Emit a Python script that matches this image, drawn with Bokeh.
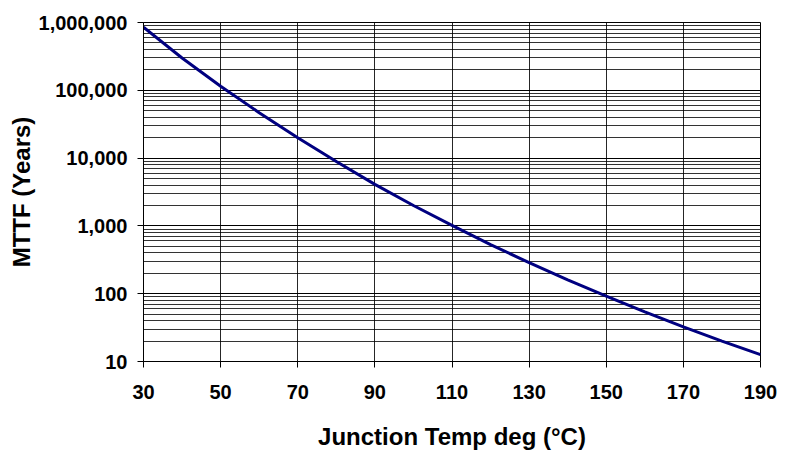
from bokeh.plotting import figure
from bokeh.models import FixedTicker, NumeralTickFormatter
from bokeh.embed import file_html
from bokeh.resources import INLINE

# Junction temperature (deg C) and MTTF (years)
temp_c = [30, 40, 50, 60, 70, 80, 90, 100, 110, 120, 130, 140, 150, 160, 170, 180, 190]
mttf_years = [850000, 300000, 115000, 46700, 20000, 8900, 4100, 2000, 1020, 530,
              287, 160, 92, 54, 32.4, 20, 12.6]

x_ticks = [30, 50, 70, 90, 110, 130, 150, 170, 190]
y_ticks = [10, 100, 1000, 10000, 100000, 1000000]
y_minor = [m * d for d in [10, 100, 1000, 10000, 100000] for m in range(2, 10)]

FONT = "Liberation Sans"

p = figure(width=785, height=452, y_axis_type="log",
           x_range=(30, 190), y_range=(10, 1000000),
           output_backend="svg", toolbar_location=None,
           min_border_left=143, min_border_right=25,
           min_border_top=22, min_border_bottom=91)

p.line(temp_c, mttf_years, line_color="#000080", line_width=3)

p.xaxis.ticker = FixedTicker(ticks=x_ticks)
p.yaxis.ticker = FixedTicker(ticks=y_ticks, minor_ticks=y_minor)
p.yaxis.formatter = NumeralTickFormatter(format="0,0")

for ax in (p.xaxis, p.yaxis):
    ax.major_label_text_font = FONT
    ax.major_label_text_font_style = "bold"
    ax.major_label_text_font_size = "20px"
    ax.major_label_text_color = "black"
    ax.axis_label_text_font = FONT
    ax.axis_label_text_font_style = "bold"
    ax.axis_label_text_font_size = "24px"
    ax.axis_label_text_color = "black"
    ax.axis_line_color = "black"
    ax.axis_line_width = 1
    ax.major_tick_line_color = "black"
    ax.major_tick_out = 6
    ax.major_tick_in = 0
    ax.minor_tick_line_color = None

p.xaxis.axis_label = "Junction Temp deg (°C)"
p.yaxis.axis_label = "MTTF (Years)"
p.xaxis.major_label_standoff = 17
p.xaxis.axis_label_standoff = 21
p.yaxis.major_label_standoff = 10
p.yaxis.axis_label_standoff = 1

p.xgrid.grid_line_color = "black"
p.xgrid.grid_line_width = 1
p.xgrid.grid_line_alpha = 0.85
p.ygrid.grid_line_color = "black"
p.ygrid.grid_line_width = 1
p.ygrid.minor_grid_line_color = "black"
p.ygrid.minor_grid_line_alpha = 0.8

p.outline_line_color = "black"
p.outline_line_width = 1
p.background_fill_color = "white"
p.border_fill_color = "white"

open("out.html", "w").write(file_html(p, INLINE))
